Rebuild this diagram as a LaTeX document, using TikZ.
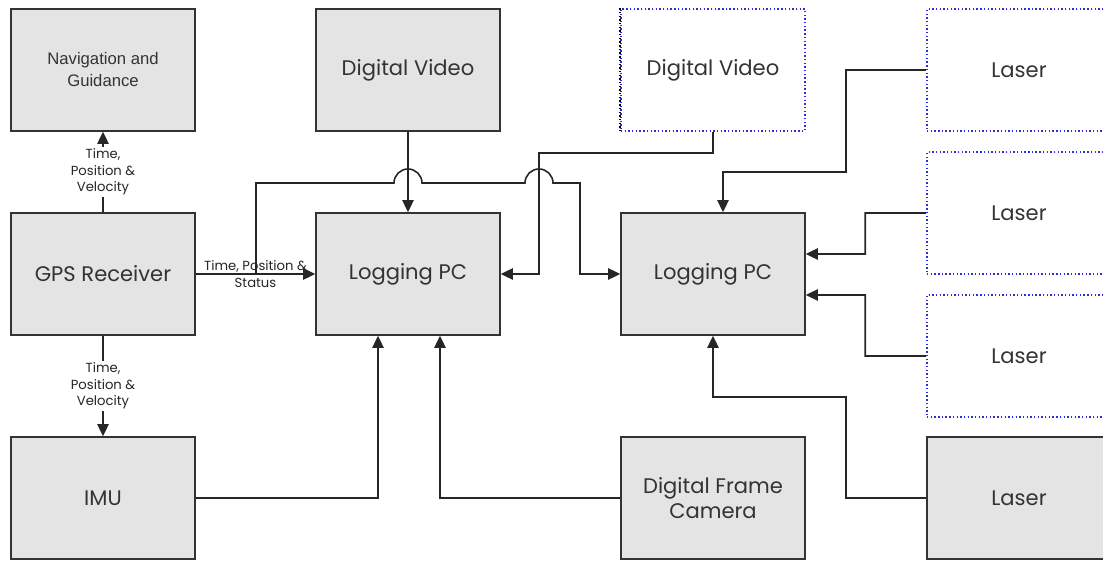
\documentclass[tikz,border=0pt]{standalone}
\usepackage{fontspec}
\setmainfont{Poppins}
\newfontfamily\navfont{Liberation Sans}
\usetikzlibrary{positioning,arrows.meta}
\definecolor{boxfill}{RGB}{228,228,228}
\definecolor{optblue}{RGB}{45,45,215}
\tikzset{
  unit/.style={draw=black!80, fill=boxfill, line width=0.8pt, minimum width=3.68cm,
    minimum height=2.44cm, align=center, inner sep=0pt, text=black!80,
    font=\fontsize{12}{14.7}\selectfont},
  optional/.style={unit, fill=white, draw=optblue, line width=0.9pt,
    dash pattern=on 0.8pt off 1.3pt},
  link/.style={line width=0.9pt, draw=black!85},
  feed/.style={link, -{Triangle[length=7pt, width=6.5pt]}},
  tag/.style={font=\fontsize{7.5}{9.5}\selectfont, align=center, inner sep=1pt, text=black!85}
}

\begin{document}
\begin{tikzpicture}[x=0.02cm, y=0.02cm]
\useasboundingbox (0,0) rectangle (1103,561);
\clip (0,0) rectangle (1103,561);

% left column
\node[unit, font=\navfont\fontsize{9.5}{12.5}\selectfont] (nav) at (103,491) {Navigation and\\Guidance};
\node[unit] (gps) at (103,287) {GPS Receiver};
\node[unit] (imu) at (103,63) {IMU};

% loggers and their sources
\node[unit] (dvA) at (408,491) {Digital Video};
\node[unit] (logA) at (408,287) {Logging PC};
\node[optional] (dvB) at (713,491) {Digital Video};
\draw[line width=0.9pt, dash pattern=on 0.8pt off 1.3pt] (dvB.north west) -- (dvB.south west);
\node[unit] (logB) at (713,287) {Logging PC};
\node[unit] (cam) at (713,63) {Digital Frame\\Camera};

% lasers
\node[optional] (lsrA) at (1019,491) {Laser};
\node[optional] (lsrB) at (1019,348) {Laser};
\node[optional] (lsrC) at (1019,205) {Laser};
\node[unit] (lsrD) at (1019,63) {Laser};

% GPS links
\draw[feed] (gps) -- node[tag, fill=white] {Time,\\Position \&\\Velocity} (nav);
\draw[feed] (gps) -- node[tag, fill=white] {Time,\\Position \&\\Velocity} (imu);
\draw[feed] (gps) -- node[tag] {Time, Position \&\\Status} (logA);
\coordinate (split) at (256,287);
\draw[feed] (split) -- (256,378) -- (394,378)
  arc[start angle=180, end angle=0, radius=0.28cm] -- (525,378)
  arc[start angle=180, end angle=0, radius=0.28cm] -- (580,378) |- (logB.west);

% video
\draw[feed] (dvA) -- (logA);
\draw[feed] (dvB.south) -- ++(0,-21) -| (539,287) -- (logA.east);

% lasers to second logger
\draw[feed] (lsrA.west) -| (846,389) -| ([xshift=0.2cm]logB.north);
\draw[feed] (lsrB.west) -| ++(-61,-41) -- ([yshift=0.4cm]logB.east);
\draw[feed] (lsrC.west) -| ++(-61,61) -- ([yshift=-0.42cm]logB.east);
\draw[feed] (lsrD.west) -| (846,164) -| (logB.south);

% camera and IMU
\draw[feed] (cam.west) -| ([xshift=0.64cm]logA.south);
\draw[feed] (imu.east) -| ([xshift=-0.6cm]logA.south);
\end{tikzpicture}
\end{document}
